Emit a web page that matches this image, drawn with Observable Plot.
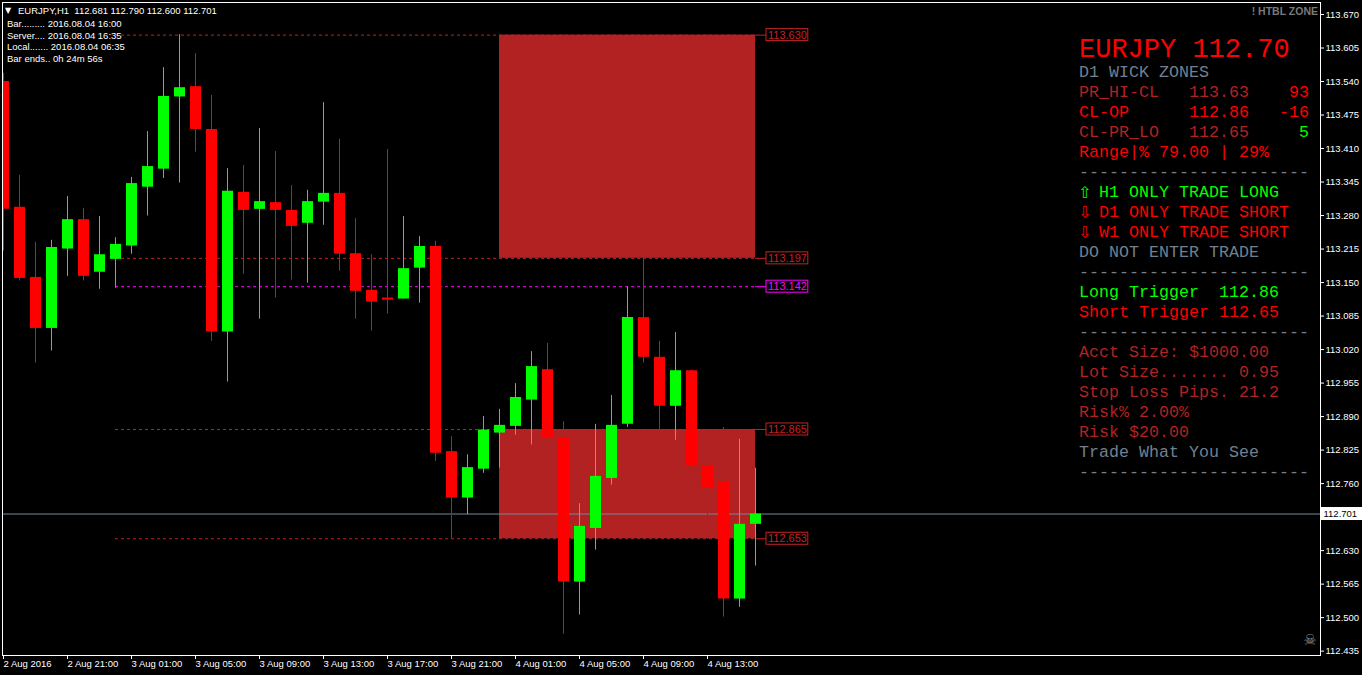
<!DOCTYPE html>
<html><head><meta charset="utf-8">
<script src="https://cdn.jsdelivr.net/npm/d3@7"></script>
<script src="https://cdn.jsdelivr.net/npm/@observablehq/plot@0.6"></script>
<style>
html,body{margin:0;padding:0;background:#000;overflow:hidden;}
#chart{position:relative;width:1362px;height:675px;}
</style></head><body><div id="chart"></div>
<script>
// ---------- DATA ----------
const symbol = "EURJPY";
const timeframe = "H1";
// H1 bars, index 0 = 2 Aug 2016 17:00 ... index 47 = 4 Aug 2016 16:00
const opens  = [113.540,113.296,113.160,113.061,113.215,113.272,113.170,113.195,113.221,113.335,113.370,113.510,113.530,113.447,113.054,113.325,113.292,113.305,113.290,113.265,113.306,113.323,113.206,113.135,113.120,113.118,113.178,113.220,112.822,112.732,112.788,112.858,112.871,112.922,112.981,112.848,112.569,112.673,112.770,112.875,113.082,113.005,112.910,112.979,112.795,112.763,112.536,112.681];
const highs  = [113.556,113.358,113.228,113.232,113.317,113.294,113.278,113.237,113.354,113.443,113.567,113.631,113.594,113.513,113.371,113.377,113.449,113.404,113.338,113.329,113.499,113.428,113.274,113.204,113.408,113.278,113.239,113.230,112.851,112.816,112.890,112.904,112.954,113.016,113.032,112.880,112.721,112.875,112.931,113.141,113.197,113.036,113.053,112.980,112.826,112.869,112.846,112.790];
const lows   = [113.211,113.153,112.994,113.017,113.162,113.153,113.137,113.139,113.205,113.279,113.352,113.343,113.403,113.036,112.957,113.166,113.079,113.120,113.155,113.149,113.261,113.172,113.079,113.056,113.089,113.118,113.110,112.803,112.653,112.700,112.780,112.790,112.854,112.835,112.809,112.468,112.505,112.631,112.757,112.869,112.994,112.788,112.844,112.754,112.652,112.501,112.520,112.600];
const closes = [113.292,113.158,113.061,113.218,113.272,113.162,113.204,113.224,113.342,113.375,113.511,113.528,113.447,113.054,113.327,113.290,113.307,113.290,113.259,113.307,113.323,113.205,113.133,113.112,113.116,113.177,113.220,112.819,112.732,112.791,112.864,112.873,112.927,112.987,112.849,112.569,112.677,112.774,112.873,113.082,113.005,112.910,112.979,112.795,112.752,112.536,112.681,112.701];

const xTickBars   = [0,4,8,12,16,20,24,28,32,36,40,44];
const xTickLabels = ["2 Aug 2016","2 Aug 21:00","3 Aug 01:00","3 Aug 05:00","3 Aug 09:00","3 Aug 13:00","3 Aug 17:00","3 Aug 21:00","4 Aug 01:00","4 Aug 05:00","4 Aug 09:00","4 Aug 13:00"];
const yTicks = [113.670,113.605,113.540,113.475,113.410,113.345,113.280,113.215,113.150,113.085,113.020,112.955,112.890,112.825,112.760,112.695,112.630,112.565,112.500,112.435];

const levelValues = [113.630,113.197,113.142,112.865,112.653];
const levelKinds  = ["zone","zone","trigger","zone","zone"];
const upperZone = [113.197,113.630];
const lowerZone = [112.653,112.865];
const zoneStartBar = 31;   // 4 Aug 00:00
const levelStartBar = 7;   // 3 Aug 00:00

const headerInfo = ["Bar......... 2016.08.04 16:00","Server.... 2016.08.04 16:35","Local....... 2016.08.04 06:35","Bar ends.. 0h 24m 56s"];

const panelTitle = "EURJPY 112.70";
const panelRows = [
  [["D1 WICK ZONES","gray"]],
  [["PR_HI-CL   113.63    ","fb"],["93","red"]],
  [["CL-OP      112.86   -16","red"]],
  [["CL-PR_LO   112.65     ","fb"],["5","lime"]],
  [["Range|% 79.00 | 29%","red"]],
  [["-----------------------","gray"]],
  [["⇧","lime"],["H1 ONLY TRADE LONG","lime"]],
  [["⇩","red"],["D1 ONLY TRADE SHORT","red"]],
  [["⇩","red"],["W1 ONLY TRADE SHORT","red"]],
  [["DO NOT ENTER TRADE","gray"]],
  [["-----------------------","gray"]],
  [["Long Trigger  112.86","lime"]],
  [["Short Trigger 112.65","red"]],
  [["-----------------------","gray"]],
  [["Acct Size: $1000.00","fb"]],
  [["Lot Size....... 0.95","fb"]],
  [["Stop Loss Pips. 21.2","fb"]],
  [["Risk% 2.00%","fb"]],
  [["Risk $20.00","fb"]],
  [["Trade What You See","gray"]],
  [["-----------------------","gray"]]
];

// ---------- STYLE ----------
const BULL = "#00ff00", BEAR = "#ff0000";
const ZONE = "#b22222", LEVEL = "#c42222", TRIG = "#ff00ff";
const PC = {red:"#ff0000", fb:"#b22222", gray:"#708090", lime:"#00ff00"};

const candles = opens.map((o,i)=>({i, o, h:highs[i], l:lows[i], c:closes[i], col: closes[i]>=o ? BULL : BEAR}));
const lastBar = candles.length - 1;
const last = candles[lastBar];
const levels = levelValues.map((v,k)=>({v, col: levelKinds[k]==="trigger" ? TRIG : LEVEL}));
const zones = [upperZone, lowerZone].map(([lo,hi])=>({lo,hi}));

const xDomain = [-0.0625, 82.3125];
const yDomain = [112.42655, 113.69328];
const axisEdge = xDomain[1] + 1/16;

const svg = Plot.plot({
  width:1362, height:675,
  marginLeft:2, marginRight:42, marginTop:2, marginBottom:20,
  style:{background:"#000", color:"#fff", fontFamily:"'Liberation Sans', Arial, sans-serif", fontSize:"9.5px", overflow:"visible"},
  x:{type:"linear", domain:xDomain},
  y:{type:"linear", domain:yDomain},
  color:{type:"identity"},
  marks:[
    Plot.rect(zones, {x1:()=>zoneStartBar, x2:()=>lastBar, y1:"lo", y2:"hi", fill:ZONE}),
    Plot.ruleY(levels, {y:"v", x1:()=>levelStartBar, x2:()=>lastBar, stroke:"col", strokeDasharray:"3,3"}),
    Plot.ruleY(levels, {y:"v", x1:()=>lastBar, x2:()=>lastBar+0.6875, stroke:"col"}),
    Plot.ruleY([last.c], {stroke:"#778899"}),
    Plot.ruleX(candles, {x:"i", y1:"l", y2:"h", stroke:"col", clip:true}),
    Plot.ruleX(candles, {x:"i", y1:"o", y2:"c", stroke:"col", strokeWidth:11, clip:true}),
    Plot.frame({stroke:"#fff"}),
    Plot.axisY({anchor:"right", ticks:yTicks, tickFormat:d=>Math.abs(d-last.c)<0.012 ? "" : d.toFixed(3), tickSize:3, tickPadding:2, stroke:"#fff", fill:"#fff", fontSize:9.5, label:null}),
    Plot.axisX({anchor:"bottom", ticks:xTickBars, tickFormat:d=>xTickLabels[xTickBars.indexOf(d)], tickSize:4, tickPadding:1, textAnchor:"start", stroke:"#fff", fill:"#fff", fontSize:9.5, label:null}),
    Plot.rect(levels, {x1:()=>lastBar+0.6875, x2:()=>lastBar+3.3, y1:"v", y2:"v", insetTop:-6, insetBottom:-6, stroke:"col", fill:"#000"}),
    Plot.text(levels, {x:()=>lastBar+2, y:"v", text:d=>d.v.toFixed(3), fill:"col", fontSize:11}),
    Plot.rect([last.c], {x1:()=>axisEdge, x2:()=>axisEdge+3, y1:d=>d, y2:d=>d, insetTop:-6.5, insetBottom:-6.5, fill:"#fff"}),
    Plot.text([last.c], {x:()=>axisEdge, y:d=>d, text:d=>d.toFixed(3), textAnchor:"start", dx:2, fill:"#000", fontSize:9.5})
  ]
});
document.getElementById("chart").appendChild(svg);

// ---------- OVERLAY TEXT ----------
const s = d3.select(svg);
const ov = s.append("g").attr("font-family","'Liberation Sans', Arial, sans-serif").attr("text-anchor","start");
ov.append("text").attr("x",5).attr("y",13).attr("font-size",8).attr("fill","#fff")
  .attr("font-family","'DejaVu Sans', sans-serif").text("▼");
ov.append("text").attr("x",18).attr("y",14).attr("font-size",9.5).attr("fill","#fff").style("white-space","pre")
  .text(`${symbol},${timeframe}  ${last.o.toFixed(3)} ${last.h.toFixed(3)} ${last.l.toFixed(3)} ${last.c.toFixed(3)}`);
headerInfo.forEach((t,k)=>{
  ov.append("text").attr("x",7).attr("y",27+k*11.6).attr("font-size",9.5).attr("fill","#fff").style("white-space","pre").text(t);
});
ov.append("text").attr("x",1318).attr("y",15).attr("text-anchor","end").attr("font-size",10.5)
  .attr("font-weight","bold").attr("fill","#7a7a7a").text("! HTBL ZONE");
ov.append("text").attr("x",1310).attr("y",645).attr("text-anchor","middle").attr("font-size",15)
  .attr("fill","#8a8a8a").attr("font-family","'DejaVu Sans', sans-serif").text("☠");

const panel = s.append("g").attr("font-family","'Liberation Mono', 'DejaVu Sans Mono', monospace")
  .attr("text-anchor","start").style("white-space","pre");
panel.append("text").attr("x",1079).attr("y",56.7).attr("font-size",27).attr("fill",PC.red).text(panelTitle);
panelRows.forEach((row,k)=>{
  const y = 77.3 + k*20;
  let segs = row;
  let x0 = 1079;
  if (row[0][0]==="⇧" || row[0][0]==="⇩") {
    panel.append("text").attr("x",1078).attr("y",y+1).attr("font-size",16)
      .attr("font-family","'DejaVu Sans', sans-serif").attr("fill",PC[row[0][1]]).text(row[0][0]);
    segs = row.slice(1);
    x0 = 1099;
  }
  const t = panel.append("text").attr("x",x0).attr("y",y).attr("font-size",16.67);
  segs.forEach(([txt,c])=>{ t.append("tspan").attr("fill",PC[c]).text(txt); });
});
</script></body></html>
